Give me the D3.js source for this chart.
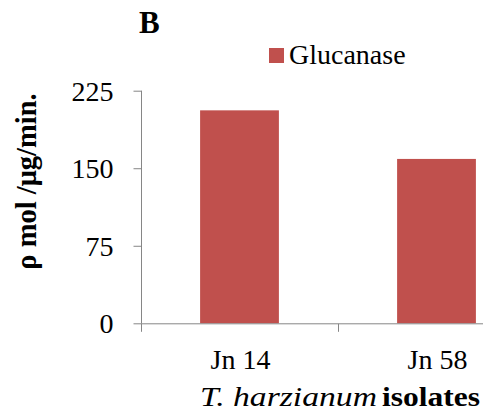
<!DOCTYPE html>
<html>
<head>
<meta charset="utf-8">
<script src="https://cdn.jsdelivr.net/npm/d3@7"></script>
<style>
  html, body { margin: 0; padding: 0; background: #fff; }
  svg { display: block; }
  text { font-family: "Liberation Serif", "Times New Roman", serif; }
</style>
</head>
<body>
<svg id="chart" width="483" height="419"></svg>
<script>
const categories = ["Jn 14", "Jn 58"];
const seriesName = "Glucanase";
const glucanase = [206, 159];
const yTicks = [0, 75, 150, 225];

const svg = d3.select("#chart");
const barColor = "#C0504D";
const axisColor = "#868686";
const FONT = "Liberation Serif, Times New Roman, serif";

const x = d3.scaleBand().domain(categories).range([141, 535]).padding(0);
const y = d3.scaleLinear().domain([0, 225]).range([323.3, 90.7]);

// bars
svg.selectAll("rect.bar")
  .data(glucanase)
  .enter().append("rect")
  .attr("class", "bar")
  .attr("x", (d, i) => x(categories[i]) + x.bandwidth() * 0.3)
  .attr("width", x.bandwidth() * 0.4)
  .attr("y", d => y(d))
  .attr("height", d => y(0) - y(d))
  .attr("fill", barColor);

// y axis
const yAxis = d3.axisLeft(y).tickValues(yTicks).tickSize(8).tickPadding(20).tickFormat(d3.format("d"));
const gy = svg.append("g").attr("transform", "translate(141.5,0)").call(yAxis)
  .attr("font-family", FONT);
gy.select(".domain").attr("stroke", axisColor).attr("d", `M0,${y(225)}V${y(0)}`);
gy.selectAll(".tick line").attr("stroke", axisColor);
gy.selectAll(".tick text").attr("font-size", 28).attr("fill", "#000")
  .attr("font-family", FONT).attr("dy", "0.34em");

// x axis
const gx = svg.append("g").attr("transform", `translate(0,${y(0) + 0.5})`);
gx.append("line").attr("x1", x.range()[0]).attr("x2", x.range()[1]).attr("stroke", axisColor);
const bounds = categories.map(c => x(c)).concat([x.range()[1]]);
gx.selectAll("line.tk").data(bounds).enter().append("line")
  .attr("class", "tk").attr("x1", d => Math.round(d) + 0.5).attr("x2", d => Math.round(d) + 0.5)
  .attr("y1", 0).attr("y2", 8).attr("stroke", axisColor);
gx.selectAll("text.cat").data(categories).enter().append("text")
  .attr("class", "cat")
  .attr("x", d => x(d) + x.bandwidth() / 2 + 1)
  .attr("y", 45)
  .attr("text-anchor", "middle")
  .attr("font-size", 28)
  .attr("font-family", FONT)
  .text(d => d);

// y title
svg.append("text")
  .attr("transform", "translate(36,181.5) rotate(-90)")
  .attr("text-anchor", "middle")
  .attr("font-size", 28.5)
  .attr("font-weight", "bold")
  .attr("font-family", FONT)
  .text("ρ mol /μg/min.");

// x title
svg.append("text").attr("x", 200).attr("y", 406).attr("font-size", 28)
  .attr("font-family", FONT).attr("font-style", "italic")
  .attr("textLength", 177).attr("lengthAdjust", "spacingAndGlyphs")
  .text("T. harzianum");
svg.append("text").attr("x", 382).attr("y", 406).attr("font-size", 28)
  .attr("font-family", FONT).attr("font-weight", "bold")
  .attr("textLength", 98).attr("lengthAdjust", "spacingAndGlyphs")
  .text("isolates");

// panel label
svg.append("text").attr("x", 139).attr("y", 33).attr("font-size", 31)
  .attr("font-family", FONT).attr("font-weight", "bold").text("B");

// legend
svg.append("rect").attr("x", 269).attr("y", 48).attr("width", 15).attr("height", 15).attr("fill", barColor);
svg.append("text").attr("x", 289).attr("y", 64).attr("font-size", 28)
  .attr("font-family", FONT).text(seriesName);
</script>
</body>
</html>
